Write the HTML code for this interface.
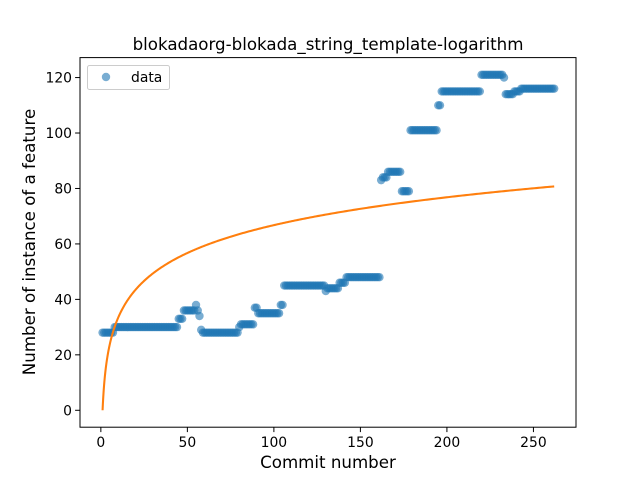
<!DOCTYPE html>
<html><head><meta charset="utf-8">
<style>
html,body{margin:0;padding:0;background:#fff;}
svg{display:block;font-family:"DejaVu Sans","Liberation Sans",sans-serif;}
</style></head>
<body>
<svg id="chart" width="640" height="480" viewBox="0 0 640 480">
<rect width="640" height="480" fill="#fff"/>
<text x="328" y="50" text-anchor="middle" font-size="16.67">blokadaorg-blokada_string_template-logarithm</text>
<g id="marks"></g>
<g id="axes"></g>
<text x="328" y="468" text-anchor="middle" font-size="16.67">Commit number</text>
<text transform="translate(35,242) rotate(-90)" text-anchor="middle" font-size="16.67">Number of instance of a feature</text>
<g>
<rect x="87.5" y="65.5" width="82" height="24" rx="2" fill="#fff" fill-opacity="0.8" stroke="#ccc"/>
<circle cx="106" cy="77" r="4.2" fill="#1f77b4" fill-opacity="0.6"/>
<text x="131" y="82" font-size="13.9">data</text>
</g>
</svg>
<script>
const runStart = [1, 8, 45, 48, 55, 56, 57, 58, 59, 80, 81, 89, 91, 104, 106, 130, 131, 138, 142, 162, 163, 166, 174, 179, 195, 197, 220, 233, 234, 239, 243];
const runEnd   = [7, 44, 47, 54, 55, 56, 57, 58, 79, 80, 88, 90, 103, 105, 129, 130, 137, 141, 161, 162, 165, 173, 178, 194, 196, 219, 232, 233, 238, 242, 262];
const runValue = [28, 30, 33, 36, 38, 36, 34, 29, 28, 30, 31, 37, 35, 38, 45, 43, 44, 46, 48, 83, 84, 86, 79, 101, 110, 115, 121, 120, 114, 115, 116];
const xTicks = [0, 50, 100, 150, 200, 250];
const yTicks = [0, 20, 40, 60, 80, 100, 120];
const logCoef = 14.5;
const xMaxCommit = 262;

const L=80,R=576,T=57.6,B=427.2;
const xMin=-12.05,xMax=274.6,yMin=-6.1,yMax=127.2;
const xs=v=>L+(v-xMin)/(xMax-xMin)*(R-L);
const ys=v=>B-(v-yMin)/(yMax-yMin)*(B-T);
const NS="http://www.w3.org/2000/svg";
const marks=document.getElementById('marks');
const axes=document.getElementById('axes');
function mk(tag,attrs,parent){const e=document.createElementNS(NS,tag);for(const k in attrs)e.setAttribute(k,attrs[k]);parent.appendChild(e);return e;}

for(let r=0;r<runStart.length;r++){
  for(let x=runStart[r];x<=runEnd[r];x++){
    const c=mk('circle',{cx:xs(x),cy:ys(runValue[r]),r:4.2,fill:'#1f77b4','fill-opacity':0.6},marks);
    
    
  }
}
let d='';
for(let i=0;i<=400;i++){
  const x=1+(xMaxCommit-1)*Math.pow(i/400,2);
  const y=logCoef*Math.log(x);
  d+=(i?'L':'M')+xs(x).toFixed(2)+','+ys(y).toFixed(2);
}
const p=mk('path',{d:d,fill:'none',stroke:'#ff7f0e','stroke-width':2.08},marks);



const fr=mk('rect',{x:L,y:T,width:R-L,height:B-T,fill:'none',stroke:'#000','stroke-width':1},axes);


xTicks.forEach(t=>{
  const x=xs(t);
  const tk=mk('line',{x1:x,x2:x,y1:B,y2:B+4.9,stroke:'#000'},axes);
  
  
  const tx=mk('text',{x:x,y:B+20,'text-anchor':'middle','font-size':13.9},axes);
  tx.textContent=t;
  
  
});
yTicks.forEach(t=>{
  const y=ys(t);
  const tk=mk('line',{x1:L-4.9,x2:L,y1:y,y2:y,stroke:'#000'},axes);
  
  
  const tx=mk('text',{x:L-8,y:y+5,'text-anchor':'end','font-size':13.9},axes);
  tx.textContent=t;
  
  
});
</script>
</body></html>
